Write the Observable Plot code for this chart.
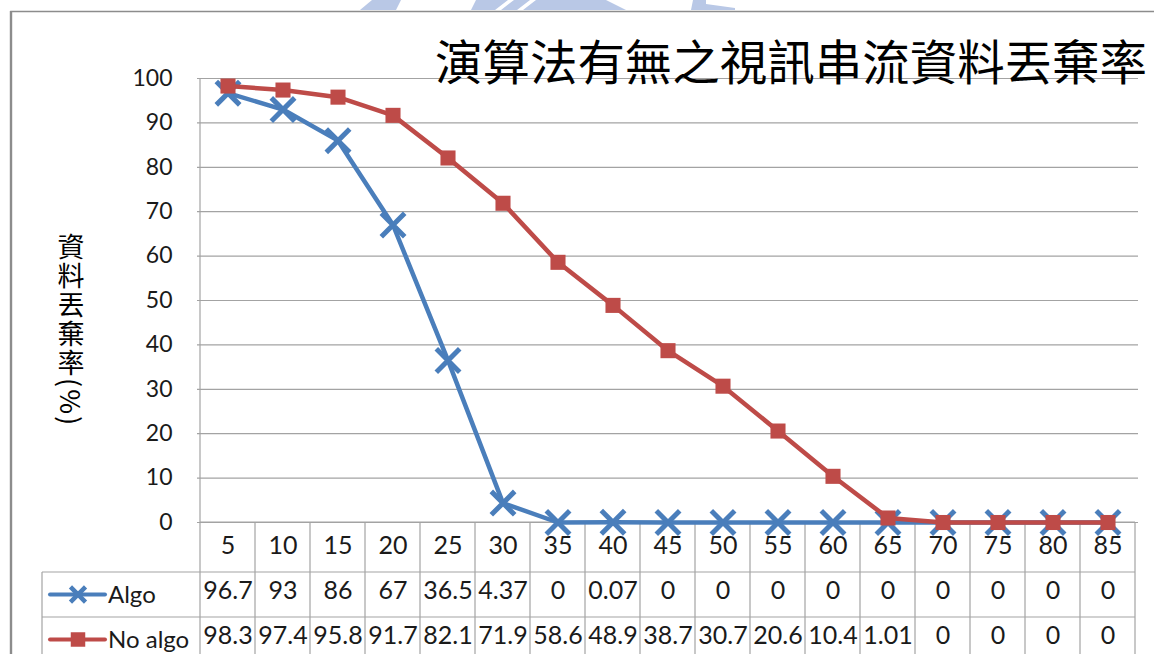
<!DOCTYPE html>
<html>
<head>
<meta charset="utf-8">
<script src="https://cdn.jsdelivr.net/npm/d3@7"></script>
<script src="https://cdn.jsdelivr.net/npm/@observablehq/plot@0.6"></script>
<style>
  html, body { margin: 0; padding: 0; background: #fff; overflow: hidden; }
  #chart svg { display: block; }
</style>
</head>
<body>
<div id="chart"></div>
<script>
// ---- data ----
const title = "演算法有無之視訊串流資料丟棄率";
const yLabel = "資料丟棄率(%)";
const categories = [5, 10, 15, 20, 25, 30, 35, 40, 45, 50, 55, 60, 65, 70, 75, 80, 85];
const seriesNames = ["Algo", "No algo"];
const algo = [96.7, 93, 86, 67, 36.5, 4.37, 0, 0.07, 0, 0, 0, 0, 0, 0, 0, 0, 0];
const noAlgo = [98.3, 97.4, 95.8, 91.7, 82.1, 71.9, 58.6, 48.9, 38.7, 30.7, 20.6, 10.4, 1.01, 0, 0, 0, 0];
const yTicks = [0, 10, 20, 30, 40, 50, 60, 70, 80, 90, 100];

// ---- styling ----
const blue = "#4A7EBB";
const red = "#BE4B48";
const gridColor = "#A3A3A3";
const textColor = "#1a1a1a";
const W = 1154, H = 654;
const headerH = 50, rowH = 45, labelLeft = 42;
const tableFont = 25;
const cjk = "'Noto Sans CJK TC', 'Noto Sans CJK SC', sans-serif";
const latin = "Lato, 'Noto Sans', sans-serif";

const rows = categories.map((c, i) => ({cat: c, algo: algo[i], noAlgo: noAlgo[i]}));

// chart-area border and the faint blue emblem along the top edge
function decor(index, scales, values, dims) {
  const g = d3.create("svg:g");
  const wm = g.append("g").attr("fill", "#B9C8E6");
  wm.append("path").attr("d", "M372,0 H401 L396,10 H360 Z");
  wm.append("path").attr("d", "M476,0 H606 L626,10 H471 Z");
  wm.append("path").attr("d", "M495,10 L508,0 H514 L501,10 Z M517,10 L530,0 H536 L523,10 Z").attr("fill", "#fff");
  wm.append("path").attr("d", "M693,0 H706 V4 L735,8 V10 H691 Z");
  g.append("path")
    .attr("d", `M11,${dims.height} V11.5 H${dims.width}`)
    .attr("fill", "none").attr("stroke", "#8C8C8C").attr("stroke-width", 1.6);
  g.append("line").attr("x1", 11).attr("x2", 11).attr("y1", 11).attr("y2", dims.height)
    .attr("stroke", "#8C8C8C").attr("stroke-width", 2.4);
  return g.node();
}

// data-table grid under the plot, aligned to the x bands
function tableGrid(index, {x, y}, values, dims) {
  const bw = x.bandwidth ? x.bandwidth() : (dims.width - dims.marginLeft - dims.marginRight) / categories.length;
  const top = y(0);
  const xs = categories.map(c => x(c)).concat([x(categories[categories.length - 1]) + bw]);
  const right = xs[xs.length - 1];
  const g = d3.create("svg:g").attr("stroke", gridColor).attr("stroke-width", 1.2).attr("fill", "none");
  // value axis line, running down into the table
  g.append("line").attr("x1", xs[0]).attr("x2", xs[0]).attr("y1", dims.marginTop).attr("y2", dims.height);
  for (const xi of xs.slice(1)) {
    g.append("line").attr("x1", xi).attr("x2", xi).attr("y1", top).attr("y2", dims.height);
  }
  g.append("line").attr("x1", xs[0]).attr("x2", right).attr("y1", top).attr("y2", top);
  const r1 = top + headerH, r2 = r1 + rowH;
  for (const yy of [r1, r2]) {
    g.append("line").attr("x1", labelLeft).attr("x2", right).attr("y1", yy).attr("y2", yy);
  }
  g.append("line").attr("x1", labelLeft).attr("x2", labelLeft).attr("y1", r1).attr("y2", dims.height);
  return g.node();
}

// series keys in the table's row headers
function legendKeys(index, {y}, values, dims) {
  const top = y(0);
  const g = d3.create("svg:g");
  const cy = [top + headerH + rowH / 2, top + headerH + rowH + rowH / 2];
  const colors = [blue, red];
  seriesNames.forEach((name, i) => {
    const k = g.append("g");
    k.append("line").attr("x1", labelLeft + 8).attr("x2", labelLeft + 63).attr("y1", cy[i]).attr("y2", cy[i])
      .attr("stroke", colors[i]).attr("stroke-width", 4).attr("stroke-linecap", "round");
    const sym = d3.symbol(i === 0 ? d3.symbolTimes : d3.symbolSquare, i === 0 ? 150 : 210)();
    k.append("path").attr("d", sym).attr("transform", `translate(${labelLeft + 36},${cy[i]})`)
      .attr("fill", i === 0 ? "none" : colors[i])
      .attr("stroke", i === 0 ? colors[i] : "none").attr("stroke-width", 4.5);
    k.append("text").attr("x", labelLeft + 66).attr("y", cy[i]).attr("dy", "0.34em")
      .attr("text-anchor", "start")
      .attr("font-family", latin).attr("font-size", 24).attr("fill", textColor).text(name);
  });
  return g.node();
}

// chart title and vertical axis title
function titles(index, scales, values, dims) {
  const g = d3.create("svg:g");
  g.append("text").attr("x", 435).attr("y", 80)
    .attr("text-anchor", "start")
    .attr("font-family", cjk).attr("font-size", 47.5).attr("fill", "#000")
    .attr("textLength", 712).attr("lengthAdjust", "spacingAndGlyphs")
    .text(title);
  g.append("text").attr("x", 71).attr("y", 233)
    .attr("text-anchor", "start")
    .attr("font-family", cjk).attr("font-size", 27).attr("fill", "#000")
    .style("writing-mode", "vertical-rl").attr("letter-spacing", 2)
    .text(yLabel);
  return g.node();
}

const chart = Plot.plot({
  width: W,
  height: H,
  marginLeft: 197,
  marginRight: 16,
  marginTop: 78,
  marginBottom: 132,
  style: {fontFamily: latin, fontSize: "23px", background: "#fff", color: textColor, overflow: "visible"},
  x: {type: "band", domain: categories, padding: 0, axis: null},
  y: {domain: [0, 100], ticks: yTicks, tickSize: 0, tickPadding: 25, label: null},
  marks: [
    decor,
    Plot.ruleY(yTicks, {stroke: gridColor, strokeWidth: 1.2}),
    tableGrid,
    Plot.line(rows, {x: "cat", y: "algo", stroke: blue, strokeWidth: 4.5}),
    Plot.dot(rows, {x: "cat", y: "algo", symbol: "times", r: 10.7, stroke: blue, strokeWidth: 5}),
    Plot.line(rows, {x: "cat", y: "noAlgo", stroke: red, strokeWidth: 4.5}),
    Plot.dot(rows, {x: "cat", y: "noAlgo", symbol: "square", r: 8.5, fill: red, stroke: "none"}),
    Plot.text(categories, {x: d => d, text: d => String(d), frameAnchor: "bottom", dy: 31, fontSize: tableFont, fill: textColor}),
    Plot.text(rows, {x: "cat", text: d => String(d.algo), frameAnchor: "bottom", dy: 76, fontSize: tableFont, fill: textColor}),
    Plot.text(rows, {x: "cat", text: d => String(d.noAlgo), frameAnchor: "bottom", dy: 121, fontSize: tableFont, fill: textColor}),
    legendKeys,
    titles
  ]
});

document.getElementById("chart").append(chart);
</script>
</body>
</html>
